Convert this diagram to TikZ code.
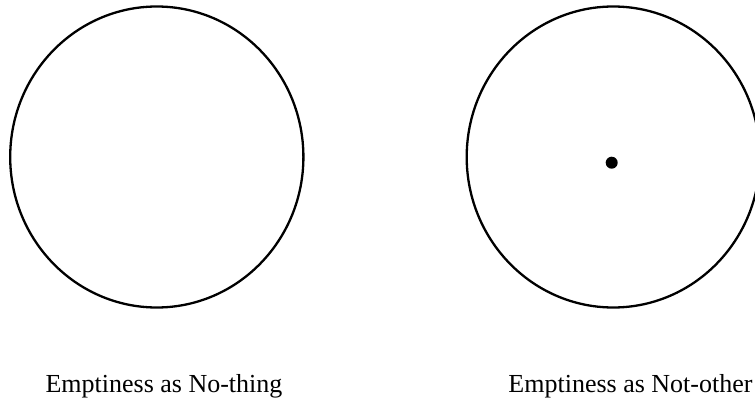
\documentclass[tikz,border=0pt]{standalone}
\usepackage{fontspec}
\setmainfont{Liberation Serif}
\begin{document}
\begin{tikzpicture}[x=1pt,y=-1pt,
  ring/.style={draw=black,line width=2.3pt},
  caption/.style={anchor=base,inner sep=0pt,font=\fontsize{26}{30}\selectfont}]
\useasboundingbox (0,0) rectangle (755,401);
\clip (0,0) rectangle (755,401);
\draw[ring] (156.8,157) ellipse [x radius=146.6, y radius=150.5];
\draw[ring] (613.3,157) ellipse [x radius=146.6, y radius=150.5];
\fill[black] (611.7,162.7) circle [radius=6];
\node[caption] (nothing) at (164,392) {Emptiness as No-thing};
\node[caption] (notother) at (630.5,392) {Emptiness as Not-other};
\end{tikzpicture}
\end{document}
